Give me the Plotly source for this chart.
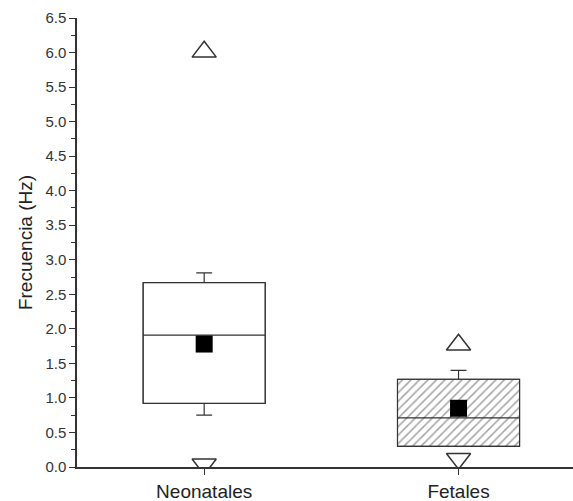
import plotly.graph_objects as go

categories = ["Neonatales", "Fetales"]
q1 = [0.92, 0.30]
median = [1.91, 0.71]
q3 = [2.67, 1.27]
whisker_low = [0.75, 0.30]
whisker_high = [2.81, 1.40]
means = [1.78, 0.85]
maxima = [6.01, 1.77]
minima = [0.04, 0.12]
patterns = ["", "/"]

xpos = list(range(len(categories)))
BOXW = 0.48
INK = "#333333"

fig = go.Figure()

# Box bodies (fill / hatching) as bars
for i, c in enumerate(categories):
    fig.add_trace(go.Bar(
        x=[xpos[i]], y=[q3[i] - q1[i]], base=[q1[i]], width=BOXW,
        marker=dict(color="white", line=dict(color=INK, width=1),
                    pattern=dict(shape=patterns[i], fgcolor="#444444",
                                 bgcolor="white", size=6, solidity=0.25)),
        showlegend=False, hoverinfo="skip"))

# Box outline, median and whiskers
for i, c in enumerate(categories):
    fig.add_trace(go.Box(
        x=[xpos[i]], q1=[q1[i]], median=[median[i]], q3=[q3[i]],
        lowerfence=[whisker_low[i]], upperfence=[whisker_high[i]],
        width=BOXW, whiskerwidth=0.13, fillcolor="rgba(0,0,0,0)",
        line=dict(color=INK, width=1.2), boxpoints=False, showlegend=False))

# Means
fig.add_trace(go.Scatter(
    x=xpos, y=means, mode="markers",
    marker=dict(symbol="square", size=17, color="black",
                line=dict(color="black", width=0)),
    showlegend=False))

# Max / min
fig.add_trace(go.Scatter(
    x=xpos, y=maxima, mode="markers",
    marker=dict(symbol="triangle-up", size=21, color="white",
                line=dict(color=INK, width=1.5)),
    showlegend=False))
fig.add_trace(go.Scatter(
    x=xpos, y=minima, mode="markers",
    marker=dict(symbol="triangle-down", size=21, color="white",
                line=dict(color=INK, width=1.5)),
    showlegend=False))

fig.update_layout(
    width=573, height=501,
    margin=dict(l=77, r=0, t=18, b=34),
    paper_bgcolor="white", plot_bgcolor="white",
    font=dict(family="Liberation Sans, Arial, sans-serif", color="#222222"),
    barmode="overlay", boxmode="overlay",
    xaxis=dict(range=[-0.5, 1.45], tickvals=xpos, ticktext=categories,
               showline=True, linecolor=INK, linewidth=1.5,
               ticks="outside", ticklen=6, tickcolor=INK,
               showgrid=False, zeroline=False,
               tickfont=dict(size=19)),
    yaxis=dict(range=[0, 6.5], dtick=0.5, tickformat=".1f",
               showline=True, linecolor=INK, linewidth=1.5,
               ticks="outside", ticklen=6, tickcolor=INK,
               minor=dict(dtick=0.25, ticks="outside", ticklen=4, tickcolor=INK),
               showgrid=False, zeroline=False,
               tickfont=dict(size=15, color="#333333"),
               title=dict(text="Frecuencia (Hz)", font=dict(size=19), standoff=8)),
)

fig.write_html("out.html")
